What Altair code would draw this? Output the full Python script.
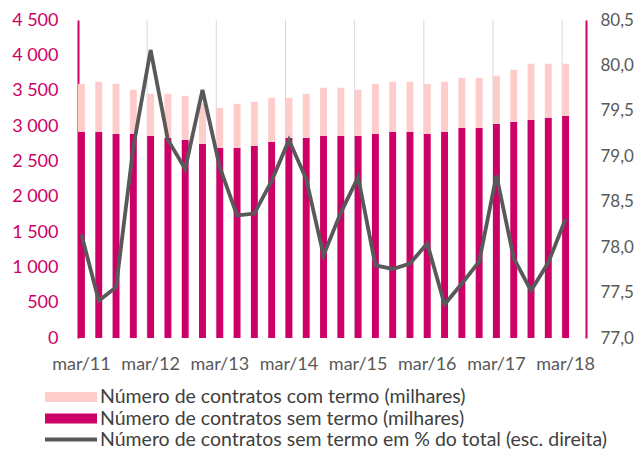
import altair as alt
import pandas as pd

quarters = []
for yy in range(11, 19):
    for m in ["mar", "jun", "set", "dez"]:
        quarters.append(f"{m}/{yy}")
quarters = quarters[:29]

sem_termo = [2917, 2917, 2888, 2888, 2860, 2831, 2803, 2746, 2690, 2690,
             2718, 2775, 2831, 2831, 2860, 2860, 2860, 2888, 2917, 2917,
             2888, 2917, 2973, 2973, 3030, 3058, 3087, 3115, 3143]
com_termo = [680, 709, 709, 624, 595, 624, 624, 574, 567, 624,
             624, 624, 568, 624, 681, 681, 652, 709, 709, 709,
             709, 709, 709, 709, 681, 738, 794, 766, 738]
pct_sem_termo = [78.14, 77.41, 77.56, 79.10, 80.17, 79.18, 78.86, 79.73, 78.88, 78.35,
                 78.37, 78.73, 79.18, 78.75, 77.91, 78.38, 78.77, 77.80, 77.76, 77.82,
                 78.04, 77.37, 77.60, 77.84, 78.79, 77.88, 77.52, 77.83, 78.31]

x_labels = ["mar/11", "mar/12", "mar/13", "mar/14", "mar/15", "mar/16", "mar/17", "mar/18"]
left_ticks = [0, 500, 1000, 1500, 2000, 2500, 3000, 3500, 4000, 4500]
right_ticks = [77.0, 77.5, 78.0, 78.5, 79.0, 79.5, 80.0, 80.5]
legend_labels = [
    "Número de contratos com termo (milhares)",
    "Número de contratos sem termo (milhares)",
    "Número de contratos sem termo em % do total (esc. direita)",
]

MAGENTA = "#CC0066"
PINK = "#FFCCCC"
GRAY = "#595959"
TEXT = "#404040"
FONT = "Lato"
W, H = 508, 318

n = len(quarters)
bars_df = pd.DataFrame({
    "quarter": quarters * 2,
    "serie": [legend_labels[1]] * n + [legend_labels[0]] * n,
    "valor": sem_termo + com_termo,
    "ordem": [0] * n + [1] * n,
})
line_df = pd.DataFrame({"quarter": quarters, "pct": pct_sem_termo})
grid_df = pd.DataFrame({"quarter": x_labels[1:]})

x_scale = alt.Scale(domain=quarters, paddingInner=0.6, paddingOuter=0.49, align=0)
x_axis = alt.Axis(values=x_labels, title=None, labelAngle=0, domain=False,
                  ticks=False, grid=False, labelPadding=17, labelFontSize=18,
                  labelColor=GRAY, labelFont=FONT)

grid = alt.Chart(grid_df).mark_rule(color="#D9D9D9", strokeWidth=1).encode(
    x=alt.X("quarter:N", scale=x_scale, sort=quarters, bandPosition=0, axis=x_axis),
    y=alt.value(0),
    y2=alt.value(H),
)

bars = alt.Chart(bars_df).mark_bar().encode(
    x=alt.X("quarter:N", scale=x_scale, sort=quarters, axis=x_axis),
    y=alt.Y("valor:Q", stack="zero",
            scale=alt.Scale(domain=[0, 4500], nice=False),
            axis=alt.Axis(orient="left", values=left_ticks, title=None, grid=False,
                          ticks=False, domainColor=MAGENTA, domainWidth=2,
                          labelColor=MAGENTA, labelFontSize=18, labelFont=FONT,
                          labelPadding=20,
                          labelExpr="replace(format(datum.value, ','), ',', ' ')")),
    color=alt.Color("serie:N", scale=alt.Scale(domain=legend_labels[:2], range=[PINK, MAGENTA]),
                    legend=None),
    order=alt.Order("ordem:Q"),
)

line = alt.Chart(line_df).mark_line(color=GRAY, strokeWidth=3.8).encode(
    x=alt.X("quarter:N", scale=x_scale, sort=quarters, axis=x_axis),
    y=alt.Y("pct:Q", scale=alt.Scale(domain=[77, 80.5], nice=False, zero=False),
            axis=alt.Axis(orient="right", values=right_ticks, title=None, grid=False,
                          ticks=False, domainColor=MAGENTA, domainWidth=2,
                          labelColor=GRAY, labelFontSize=17, labelFont=FONT,
                          labelPadding=14,
                          labelExpr="replace(format(datum.value, '.1f'), '.', ',')")),
)

legend_colors = [PINK, MAGENTA, GRAY]
legend_widths = [10, 10, 4]
legend_y = [377, 398.5, 419.5]
legend_layers = []
for lab, col, sw, ly in zip(legend_labels, legend_colors, legend_widths, legend_y):
    d = pd.DataFrame({"serie": [lab]})
    legend_layers.append(
        alt.Chart(d).mark_rule(color=col, strokeWidth=sw, strokeCap="butt").encode(
            x=alt.value(-33), x2=alt.value(19), y=alt.value(ly)
        )
    )
    legend_layers.append(
        alt.Chart(d).mark_text(align="left", baseline="middle", fontSize=19.5,
                               color=TEXT, font=FONT).encode(
            x=alt.value(22), y=alt.value(ly), text="serie:N"
        )
    )

chart = alt.layer(grid, bars, line, *legend_layers).resolve_scale(
    y="independent"
).properties(
    width=W, height=H,
    padding={"left": 70, "top": 12, "right": 49, "bottom": 113},
    autosize=alt.AutoSizeParams(type="none"),
).configure_view(stroke=None)

chart.save("out.html", embed_options={"renderer": "svg", "actions": False})
